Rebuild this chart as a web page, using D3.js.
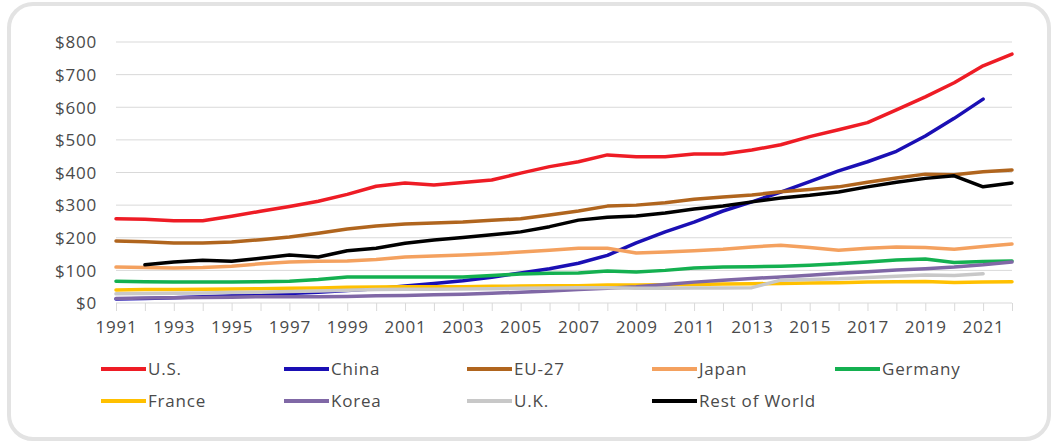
<!DOCTYPE html>
<html>
<head>
<meta charset="utf-8">
<script src="https://cdn.jsdelivr.net/npm/d3@7"></script>
<style>
  html, body { margin: 0; padding: 0; background: #fff; }
  svg { display: block; }
  text { font-family: "Open Sans", "Noto Sans", sans-serif; fill: #4a4a4a; letter-spacing: 0.8px; }
</style>
</head>
<body>
<svg id="chart" width="1058" height="443"></svg>
<script>
// R&D expenditure by economy, 1991–2022 (billions of dollars)
const years = d3.range(1991, 2023);
const yTicks = [0, 100, 200, 300, 400, 500, 600, 700, 800];
const xTickLabels = d3.range(1991, 2022, 2);

const seriesNames = ["U.S.", "China", "EU-27", "Japan", "Germany", "France", "Korea", "U.K.", "Rest of World"];
const seriesColors = ["#ee1c25", "#1a0fb4", "#b0651e", "#f4a15f", "#14b050", "#ffc000", "#8068a6", "#c8c8c8", "#000000"];

const usValues = [258, 257, 252, 252, 266, 281, 296, 312, 333, 358, 368, 362, 369, 377, 398, 418, 433, 454, 448, 448, 457, 457, 469, 485, 510, 531, 553, 592, 632, 675, 727, 763];
const chinaValues = [12, 14, 16, 19, 22, 25, 29, 33, 38, 44, 52, 60, 68, 79, 92, 105, 122, 146, 184, 218, 248, 282, 310, 340, 372, 405, 433, 465, 512, 566, 625];
const euValues = [190, 188, 184, 184, 187, 194, 202, 214, 227, 236, 242, 245, 248, 254, 258, 270, 282, 297, 300, 307, 318, 325, 331, 341, 348, 356, 370, 383, 395, 393, 402, 408];
const japanValues = [110, 109, 107, 109, 113, 120, 126, 128, 129, 133, 141, 144, 147, 151, 156, 162, 168, 168, 153, 156, 160, 165, 172, 177, 170, 162, 168, 172, 170, 165, 173, 181];
const germanyValues = [67, 65, 64, 64, 64, 65, 67, 72, 80, 80, 80, 80, 80, 84, 89, 91, 92, 98, 95, 100, 107, 110, 111, 113, 116, 120, 126, 132, 135, 124, 127, 129];
const franceValues = [40, 41, 41, 42, 43, 44, 45, 46, 48, 49, 50, 50, 50, 51, 52, 53, 53, 55, 55, 56, 57, 58, 59, 60, 61, 62, 64, 65, 66, 63, 64, 65];
const koreaValues = [14, 15, 16, 17, 18, 19, 19, 19, 20, 22, 23, 25, 27, 30, 33, 37, 41, 45, 50, 57, 64, 70, 75, 80, 85, 91, 96, 101, 105, 110, 117, 126];
const ukValues = [28, 29, 30, 31, 32, 33, 35, 37, 39, 41, 42, 42, 43, 44, 45, 46, 47, 47, 45, 45, 46, 46, 47, 70, 72, 74, 78, 82, 86, 84, 90];
const restValues = [null, 117, 126, 131, 128, 137, 147, 141, 160, 168, 183, 193, 201, 209, 218, 234, 254, 263, 267, 276, 288, 297, 310, 322, 330, 340, 356, 370, 382, 390, 356, 368];

const seriesValues = [usValues, chinaValues, euValues, japanValues, germanyValues, franceValues, koreaValues, ukValues, restValues];

const svg = d3.select("#chart");

// rounded card frame
svg.append("rect")
  .attr("x", 9).attr("y", 4)
  .attr("width", 1040).attr("height", 435)
  .attr("rx", 24).attr("ry", 24)
  .attr("fill", "#fff")
  .attr("stroke", "#e3e3e3")
  .attr("stroke-width", 4);

const x = d3.scaleLinear().domain([1991, 2022]).range([116, 1012]);
const y = d3.scaleLinear().domain([0, 800]).range([303, 42]);

// horizontal gridlines
svg.append("g")
  .selectAll("line")
  .data(yTicks)
  .join("line")
  .attr("x1", x(1991)).attr("x2", x(2022))
  .attr("y1", d => y(d)).attr("y2", d => y(d))
  .attr("stroke", "#d9d9d9")
  .attr("stroke-width", 1);

// y axis labels
const yAxis = d3.axisLeft(y)
  .tickValues(yTicks)
  .tickSize(0)
  .tickPadding(0)
  .tickFormat(d => "$" + d);
const gy = svg.append("g").attr("transform", "translate(97,0)").call(yAxis);
gy.select(".domain").remove();
gy.selectAll("text")
  .attr("font-size", 17)
  .attr("font-family", "Open Sans, sans-serif")
  .attr("fill", "#4a4a4a")
  .attr("dy", "0.34em");

// x axis: tick marks every year, labels every other year
const xAxis = d3.axisBottom(x)
  .tickValues(years)
  .tickSize(8)
  .tickPadding(10)
  .tickFormat(d => xTickLabels.includes(d) ? String(d) : "");
const gx = svg.append("g").attr("transform", `translate(0,${y(0)})`).call(xAxis);
gx.select(".domain").remove();
gx.selectAll(".tick line").attr("stroke", "#d9d9d9");
gx.selectAll("text")
  .attr("font-size", 17)
  .attr("font-family", "Open Sans, sans-serif")
  .attr("fill", "#4a4a4a");

// series lines
const line = d3.line()
  .defined(d => d.v != null)
  .x(d => x(d.year))
  .y(d => y(d.v));

const lines = svg.append("g");
seriesNames.forEach((name, i) => {
  const pts = seriesValues[i].map((v, j) => ({ year: years[j], v }));
  lines.append("path")
    .datum(pts)
    .attr("fill", "none")
    .attr("stroke", seriesColors[i])
    .attr("stroke-width", 3.5)
    .attr("stroke-linejoin", "round")
    .attr("stroke-linecap", "round")
    .attr("d", line);
});

// legend: two rows of five / four entries
const legendCols = [101, 284, 467, 652, 835];
const legendRows = [369, 401];
const legend = svg.append("g");
seriesNames.forEach((name, i) => {
  const cx = legendCols[i % 5];
  const cy = legendRows[Math.floor(i / 5)];
  legend.append("line")
    .attr("x1", cx).attr("x2", cx + 45)
    .attr("y1", cy).attr("y2", cy)
    .attr("stroke", seriesColors[i])
    .attr("stroke-width", 4);
  legend.append("text")
    .attr("x", cx + 47).attr("y", cy)
    .attr("dy", "0.35em")
    .attr("font-size", 17)
    .text(name);
});
</script>
</body>
</html>
